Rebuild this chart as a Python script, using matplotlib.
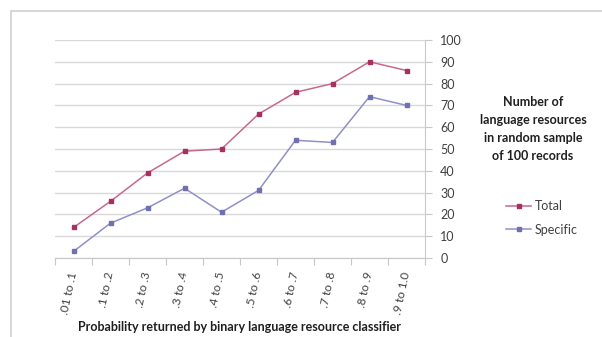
import matplotlib.pyplot as plt
import numpy as np

# Categories and counts per probability bin
bins = [".01 to .1", ".1 to .2", ".2 to .3", ".3 to .4", ".4 to .5",
        ".5 to .6", ".6 to .7", ".7 to .8", ".8 to .9", ".9 to 1.0"]
total = [14, 26, 39, 49, 50, 66, 76, 80, 90, 86]
specific = [3, 16, 23, 32, 21, 31, 54, 53, 74, 70]

plt.rcParams['font.family'] = ['Lato', 'DejaVu Sans']

fig = plt.figure(figsize=(6.02, 3.37), dpi=100)

# outer chart border
fig.patches.append(plt.Rectangle((11 / 602, -0.01), 1.0, 1 - 11 / 337 + 0.01,
                                 transform=fig.transFigure, fill=False,
                                 edgecolor='#d0d0d0', lw=1.2))

ax = fig.add_axes([55 / 602, 1 - 258 / 337, 370 / 602, 218 / 337])
x = np.arange(len(bins)) + 0.5

ax.plot(x, total, color='#c8688f', lw=1.1, marker='s', ms=3.5,
        mfc='#a8305f', mec='#a8305f', label='Total', zorder=3)
ax.plot(x, specific, color='#9090c8', lw=1.1, marker='s', ms=3.5,
        mfc='#7070b0', mec='#7070b0', label='Specific', zorder=3)

ax.set_xlim(0, len(bins))
ax.set_ylim(0, 100)
ax.set_yticks(range(0, 101, 10))
ax.yaxis.tick_right()
ax.grid(axis='y', color='#d9d9d9', lw=1)
ax.set_axisbelow(True)

for s in ['top', 'left']:
    ax.spines[s].set_visible(False)
for s in ['right', 'bottom']:
    ax.spines[s].set_color('#c8c8c8')

ax.set_xticks(range(len(bins) + 1))
ax.set_xticklabels([])
ax.set_xticks(x, minor=True)
ax.set_xticklabels(bins, minor=True, rotation=78, ha='right', va='center',
                   rotation_mode='anchor', fontsize=8.5, color='#404040')
ax.tick_params(axis='x', which='minor', length=0, pad=10)
ax.tick_params(axis='x', which='major', length=5, color='#c8c8c8')
ax.tick_params(axis='y', length=5, color='#c8c8c8', labelsize=9,
               labelcolor='#404040', pad=6)

fig.text(240 / 602, 1 - 327 / 337,
         "Probability returned by binary language resource classifier",
         ha='center', va='center', fontsize=9, fontweight='bold',
         color='#202020')
fig.text(533 / 602, 1 - 129 / 337,
         "Number of\nlanguage resources\nin random sample\nof 100 records",
         ha='center', va='center', fontsize=9, fontweight='bold',
         color='#202020', linespacing=1.6)

ax.legend(loc='center left', bbox_to_anchor=(495 / 602, 1 - 218 / 337),
          bbox_transform=fig.transFigure, frameon=False, fontsize=9,
          handlelength=2.0, labelspacing=0.9, handletextpad=0.3,
          labelcolor='#404040')

fig.savefig('out.png', dpi=100)
